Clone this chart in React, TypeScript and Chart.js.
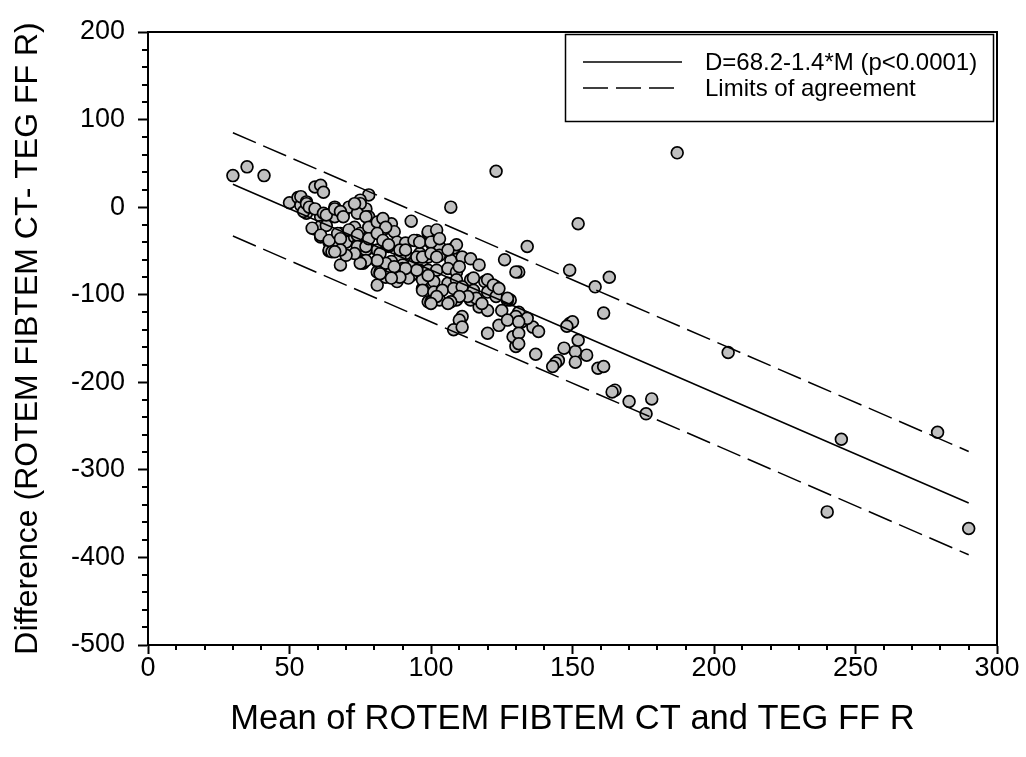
import React, { useEffect, useRef } from 'react';
import { Chart, registerables } from 'chart.js';

Chart.register(...registerables);

const FONT = '"Liberation Sans", Arial, sans-serif';

// Scatter points: mean (x) and difference (y)
const meanValues: number[] = [
  30, 35, 41, 59, 61, 62, 50, 53, 54, 56, 56, 61, 59, 61, 61, 64, 64, 54, 56, 55, 56, 57, 59,
  187, 123, 107, 152, 134, 149, 131, 163, 158, 161, 205, 279, 245, 240, 290, 170, 176, 178, 165, 164,
  159, 161, 155, 151, 151, 152, 147, 145, 144, 143, 149, 150, 148, 137, 131, 130, 132, 136, 138, 130,
  130, 128, 93, 78, 75, 77, 68, 81, 126, 130,
  62, 66, 66, 63, 69, 71, 75, 74, 78, 83, 86, 73, 68, 66, 64, 70, 73, 75, 78, 83,
  87, 78, 76, 81, 85, 88, 91, 95, 99, 91, 96, 89, 76, 81, 86, 90, 94, 97, 81, 86,
  90, 93, 96, 88, 92, 97, 99,
  65, 74, 77, 76, 82, 84, 84, 68, 82,
  100, 103, 108, 109, 99, 103, 107, 111, 114, 117, 99, 102, 106, 109, 97, 101, 106, 109, 114, 119,
  123, 97, 101, 104, 108, 111, 115, 120, 123, 127, 100, 103, 109, 114, 117, 120, 125, 134, 111, 110,
  108, 111, 120, 124, 127, 131, 129, 131, 131,
  63, 66, 68, 69, 73, 77, 78, 81, 83, 84, 58, 61, 64, 67, 68, 71, 74, 74, 77, 78,
  81, 83, 85, 89, 91, 94, 96, 99, 102, 100, 103, 95, 97, 100, 102, 106, 110, 120, 122, 124,
  127, 115, 116, 118, 113, 110, 107, 106, 102, 100, 99, 95, 91, 89, 87, 86, 82, 81, 77, 75,
  73, 70, 68, 66,
];

const diffValues: number[] = [
  36, 46, 36, 23, 25, 17, 5, 11, 2, 5, -7, -11, -25, -22, -34, -40, -50, 12, 6, -5, 4, 0, -2,
  62, 41, 0, -19, -45, -72, -74, -80, -91, -121, -166, -257, -265, -348, -367, -222, -236, -219, -209, -211,
  -184, -182, -169, -165, -177, -152, -161, -175, -178, -182, -133, -131, -136, -168, -120, -125, -131, -137, -142, -148,
  -159, -106, -16, 14, 8, -2, -66, -89, -60, -74,
  -7, 0, -11, -21, -7, 0, 4, -7, -11, -15, -19, -23, -30, -41, -49, -40, -34, -30, -34, -26,
  -28, -47, -53, -49, -45, -40, -41, -38, -30, -53, -53, -57, -64, -62, -62, -66, -64, -61, -74, -74,
  -70, -78, -72, -85, -81, -93, -108,
  -51, -43, -49, -62, -74, -64, -80, -32, -53,
  -41, -45, -47, -43, -57, -55, -61, -57, -59, -66, -72, -72, -70, -74, -83, -85, -87, -83, -83, -85,
  -91, -95, -97, -95, -93, -91, -95, -97, -102, -106, -108, -106, -106, -106, -114, -118, -118, -127, -125, -129,
  -140, -137, -144, -135, -129, -131, -148, -144, -156,
  -9, -2, -5, -11, 4, -11, -23, -17, -13, -23, -24, -32, -38, -30, -36, -26, -32, -45, -45, -36,
  -30, -38, -43, -49, -49, -38, -40, -28, -26, -40, -36, -57, -57, -53, -57, -49, -68, -83, -89, -93,
  -104, -81, -104, -110, -102, -102, -108, -110, -102, -110, -78, -72, -70, -80, -68, -81, -76, -61, -61, -64,
  -53, -55, -49, -51,
];

// Regression line and limits of agreement (end points)
const lineX = [30, 290];
const regressionY = [26.2, -337.8];
const upperLimitY = [85, -279];
const lowerLimitY = [-33, -397];

// Axes
const xMin = 0, xMax = 300, xMajorStep = 50, xMinorStep = 10;
const yMin = -500, yMax = 200, yMajorStep = 100, yMinorStep = 20;

const xTitle = 'Mean of ROTEM FIBTEM CT and TEG FF R';
const yTitle = 'Difference (ROTEM FIBTEM CT- TEG FF R)';
const legendLabels = ['D=68.2-1.4*M (p<0.0001)', 'Limits of agreement'];

const DASH = [25, 8];

const decorPlugin = {
  id: 'decor',
  afterDraw(chart: any) {
    const { ctx, chartArea, scales } = chart;
    const xs = scales.x;
    const ys = scales.y;
    ctx.save();
    ctx.strokeStyle = '#000';
    ctx.lineWidth = 2;
    ctx.setLineDash([]);
    // top and right frame
    ctx.beginPath();
    ctx.moveTo(chartArea.left - 1, Math.round(chartArea.top));
    ctx.lineTo(Math.round(chartArea.right), Math.round(chartArea.top));
    ctx.lineTo(Math.round(chartArea.right), chartArea.bottom + 1);
    ctx.stroke();
    // minor ticks
    ctx.beginPath();
    for (let v = xMin; v <= xMax; v += xMinorStep) {
      if (v % xMajorStep === 0) continue;
      const px = Math.round(xs.getPixelForValue(v));
      ctx.moveTo(px, chartArea.bottom);
      ctx.lineTo(px, chartArea.bottom + 5);
    }
    for (let v = yMin; v <= yMax; v += yMinorStep) {
      if (v % yMajorStep === 0) continue;
      const py = Math.round(ys.getPixelForValue(v));
      ctx.moveTo(chartArea.left, py);
      ctx.lineTo(chartArea.left - 6, py);
    }
    ctx.stroke();

    // legend box
    const bx = chartArea.right - 432;
    const by = chartArea.top + 2;
    const bw = 428;
    const bh = 87;
    ctx.fillStyle = '#fff';
    ctx.fillRect(bx, by, bw, bh);
    ctx.lineWidth = 1.5;
    ctx.strokeRect(bx + 0.5, by + 0.5, bw, bh);

    const sx = bx + 18;
    const y1 = by + 28;
    const y2 = by + 54;
    ctx.lineWidth = 1.5;
    ctx.beginPath();
    ctx.moveTo(sx, y1);
    ctx.lineTo(sx + 99, y1);
    ctx.stroke();
    ctx.setLineDash(DASH);
    ctx.beginPath();
    ctx.moveTo(sx, y2);
    ctx.lineTo(sx + 91, y2);
    ctx.stroke();
    ctx.setLineDash([]);

    ctx.fillStyle = '#000';
    ctx.font = `24px ${FONT}`;
    ctx.textBaseline = 'middle';
    ctx.textAlign = 'left';
    ctx.fillText(legendLabels[0], bx + 140, y1 + 1);
    ctx.fillText(legendLabels[1], bx + 140, y2 + 1);
    ctx.restore();
  },
};

export default function App() {
  const ref = useRef<HTMLCanvasElement | null>(null);

  useEffect(() => {
    document.body.style.margin = '0';
    const canvas = ref.current;
    if (!canvas) return;

    const toXY = (ys: number[]) => lineX.map((x, i) => ({ x, y: ys[i] }));
    const lineStyle = {
      showLine: true,
      pointRadius: 0,
      borderColor: '#000',
      borderWidth: 1.5,
      fill: false,
    };

    const chart = new Chart(canvas, {
      type: 'scatter',
      data: {
        datasets: [
          { label: legendLabels[0], data: toXY(regressionY), ...lineStyle } as any,
          { label: legendLabels[1], data: toXY(upperLimitY), ...lineStyle, borderDash: DASH } as any,
          { label: 'lower', data: toXY(lowerLimitY), ...lineStyle, borderDash: DASH } as any,
          {
            label: 'points',
            data: meanValues.map((x, i) => ({ x, y: diffValues[i] })),
            backgroundColor: '#c0c0c0',
            borderColor: '#000',
            borderWidth: 1.7,
            pointRadius: 5.9,
          } as any,
        ],
      },
      options: {
        responsive: false,
        animation: false,
        events: [],
        layout: { padding: { top: 32, right: 29, left: 0, bottom: 0 } },
        plugins: {
          legend: { display: false },
          tooltip: { enabled: false },
        },
        scales: {
          x: {
            type: 'linear',
            min: xMin,
            max: xMax,
            ticks: {
              stepSize: xMajorStep,
              color: '#000',
              font: { family: FONT, size: 27 },
              padding: -2,
              maxRotation: 0,
              autoSkip: false,
            },
            grid: {
              drawOnChartArea: false,
              drawTicks: true,
              tickLength: 9,
              tickWidth: 2,
              tickColor: '#000',
            },
            border: { display: true, color: '#000', width: 2 },
            title: {
              display: true,
              text: xTitle,
              color: '#000',
              font: { family: FONT, size: 34.5 },
              padding: { top: 0, bottom: 17 },
            },
            afterFit: (s: any) => {
              s.height = 112;
            },
          } as any,
          y: {
            type: 'linear',
            min: yMin,
            max: yMax,
            ticks: {
              stepSize: yMajorStep,
              color: '#000',
              font: { family: FONT, size: 27 },
              padding: 13,
              autoSkip: false,
            },
            grid: {
              drawOnChartArea: false,
              drawTicks: true,
              tickLength: 10,
              tickWidth: 2,
              tickColor: '#000',
            },
            border: { display: true, color: '#000', width: 2 },
            title: {
              display: true,
              text: yTitle,
              color: '#000',
              font: { family: FONT, size: 32 },
              padding: { top: 9, bottom: 0 },
            },
            afterFit: (s: any) => {
              s.width = 148;
            },
          } as any,
        },
      },
      plugins: [decorPlugin],
    });

    return () => chart.destroy();
  }, []);

  return (
    <canvas
      ref={ref}
      width={1026}
      height={757}
      style={{ display: 'block', width: 1026, height: 757 }}
    />
  );
}
